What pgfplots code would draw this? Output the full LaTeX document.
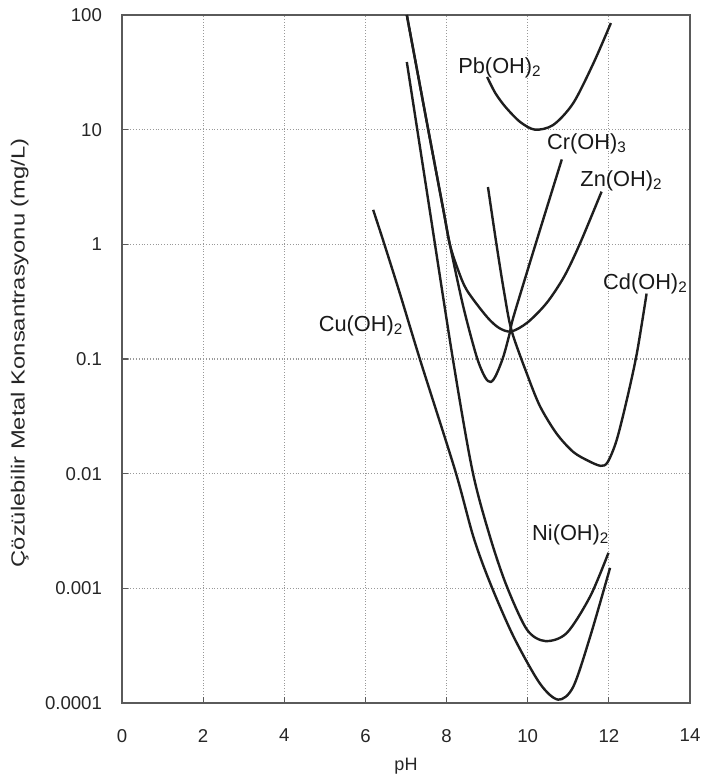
\documentclass[border=0pt]{standalone}
\usepackage{fontspec}
\setmainfont{Liberation Sans}
\usepackage{graphicx}
\usepackage{pgfplots}
\pgfplotsset{compat=1.18}
\definecolor{curve}{HTML}{1E1E1E}
\definecolor{frame}{HTML}{5A5A5A}
\pgfplotsset{solub/.style={curve, solid, line width=1.2pt, smooth, mark=none}}

\begin{document}
\begin{tikzpicture}
\useasboundingbox (-61pt,-38.5pt) rectangle (290pt,351.5pt);
\begin{axis}[
    at={(0,0)}, anchor=south west,
    width=284pt, height=344pt, scale only axis,
    xmin=0, xmax=14,
    ymode=log, ymin=1e-4, ymax=100,
    xtick={0,2,4,6,8,10,12,14},
    xticklabels={0,2,4,6,8,10,12,14},
    ytick={1e-4,1e-3,1e-2,1e-1,1,10,100},
    yticklabels={0.0001,0.001,0.01,0.1,1,10,100},
    yminorticks=false,
    grid=major,
    grid style={densely dotted, black!40, line width=0.6pt},
    axis line style={draw=frame, line width=1pt},
    tick align=inside, xtick pos=bottom, ytick pos=left,
    major tick length=3pt,
    tick style={frame, line width=0.6pt},
    ticklabel style={font=\fontsize{9.3}{11}\selectfont, text=black!85},
    xticklabel shift=9.5pt, yticklabel shift=6.5pt,
    xlabel={pH},
    ylabel={\scalebox{1.25}[1]{Çözülebilir Metal Konsantrasyonu (mg/L)}},
    xlabel style={at={(axis description cs:0.5,0)}, anchor=north,
      yshift=-24pt, font=\fontsize{9}{11}\selectfont, text=black!85},
    ylabel style={at={(axis description cs:-0.18,0.509)}, anchor=center,
      font=\fontsize{9.5}{11}\selectfont, text=black!85},
  ]
  % Pb(OH)2
  \addplot[solub] coordinates {(9.0,28.8)(9.2,20.9)(9.45,15.8)(9.81,11.7)(10.18,10.0)
    (10.63,11.0)(11.12,17.0)(11.62,38.0)(12.05,85.1)};
  % Zn(OH)2
  \addplot[solub] coordinates {(7.02,100)(7.5,12.3)(7.92,2.0)(8.08,1.0)(8.28,0.603)
    (8.50,0.398)(8.99,0.234)(9.3,0.186)(9.6,0.174)(10.0,0.209)(10.47,0.309)
    (10.9,0.525)(11.29,1.02)(11.82,2.88)};
  % Cr(OH)3
  \addplot[solub] coordinates {(7.02,100)(7.5,12.3)(7.92,2.0)(8.08,1.0)(8.41,0.288)
    (8.74,0.105)(8.95,0.0692)(9.09,0.0631)(9.22,0.0724)(9.4,0.105)(9.56,0.170)
    (9.65,0.234)(10.2,1.02)(10.84,5.50)};
  % Ni(OH)2
  \addplot[solub] coordinates {(7.02,38.9)(7.51,2.95)(8.16,0.0977)(8.64,0.0105)
    (9.07,2.82e-3)(9.48,1.05e-3)(9.98,4.37e-4)(10.43,3.47e-4)(10.96,4.07e-4)
    (11.54,8.51e-4)(11.99,2.04e-3)};
  % Cu(OH)2
  \addplot[solub] coordinates {(6.19,2.0)(6.43,1.10)(6.85,0.372)(7.35,0.0977)
    (8.21,0.0107)(8.66,2.82e-3)(9.07,1.12e-3)(9.65,3.80e-4)(10.30,1.48e-4)
    (10.75,1.07e-4)(11.12,1.38e-4)(11.54,3.80e-4)(12.03,1.51e-3)};
  % Cd(OH)2
  \addplot[solub] coordinates {(9.02,3.16)(9.23,1.0)(9.42,0.380)(9.60,0.178)
    (9.97,0.0759)(10.30,0.0389)(10.71,0.0224)(11.12,0.0155)(11.5,0.0129)
    (11.8,0.0117)(11.97,0.0126)(12.19,0.0195)(12.44,0.0437)(12.69,0.112)
    (12.93,0.372)};

  \begin{scope}[every node/.style={anchor=west, inner sep=0pt,
      font=\fontsize{10.9}{12}\selectfont, text=black!90}]
    \node at (axis cs:8.28,34.7) {Pb(OH)\textsubscript{2}};
    \node at (axis cs:10.47,7.5) {Cr(OH)\textsubscript{3}};
    \node at (axis cs:11.29,3.57) {Zn(OH)\textsubscript{2}};
    \node at (axis cs:11.85,0.452) {Cd(OH)\textsubscript{2}};
    \node at (axis cs:4.84,0.195) {Cu(OH)\textsubscript{2}};
    \node at (axis cs:10.10,2.95e-3) {Ni(OH)\textsubscript{2}};
  \end{scope}
\end{axis}
\end{tikzpicture}
\end{document}
